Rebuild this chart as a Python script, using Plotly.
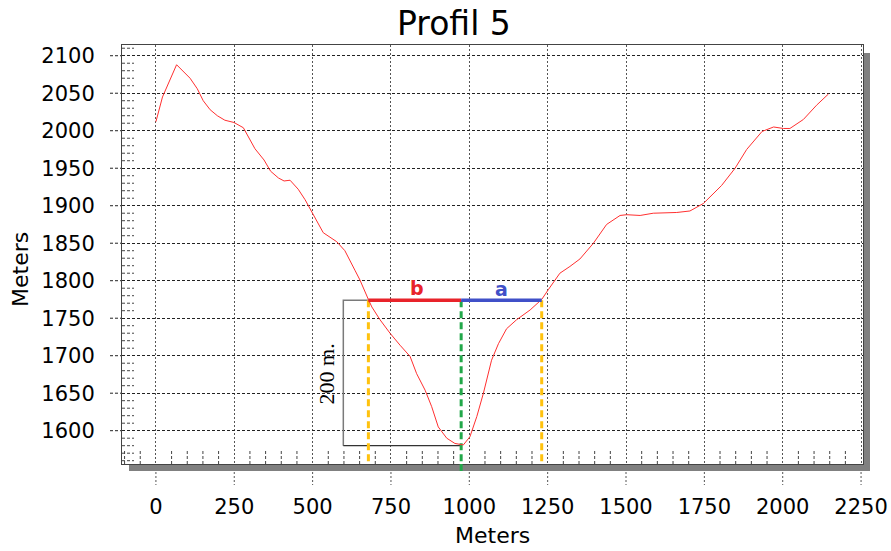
import plotly.graph_objects as go

# ---- data ----
dist = [0, 21, 66, 109, 132, 151, 173, 196, 220, 249, 279, 295, 316, 345, 366, 391, 409, 428,
        454, 476, 499, 534, 577, 603, 635, 651, 678, 689, 715, 747, 779, 811, 832, 859, 880,
        901, 928, 954, 981, 1002, 1024, 1045, 1071, 1093, 1119, 1151, 1194, 1231, 1252, 1289,
        1321, 1353, 1396, 1438, 1481, 1502, 1545, 1587, 1662, 1704, 1747, 1805, 1848, 1885,
        1934, 1971, 2002, 2023, 2066, 2108, 2146]
elev = [2012, 2045, 2088, 2070, 2056, 2040, 2028, 2020, 2014, 2011, 2004, 1992, 1976, 1961,
        1946, 1937, 1933, 1934, 1922, 1908, 1890, 1864, 1852, 1840, 1814, 1801, 1775, 1765,
        1748, 1730, 1714, 1699, 1676, 1654, 1632, 1605, 1590, 1583, 1581, 1592, 1619, 1650,
        1694, 1716, 1736, 1748, 1761, 1775, 1788, 1810, 1819, 1829, 1850, 1875, 1887, 1888,
        1887, 1890, 1891, 1893, 1903, 1927, 1950, 1975, 1999, 2005, 2003, 2003, 2015, 2034, 2049]

x_ticks = [0, 250, 500, 750, 1000, 1250, 1500, 1750, 2000, 2250]
y_ticks = [1600, 1650, 1700, 1750, 1800, 1850, 1900, 1950, 2000, 2050, 2100]
x_minor = [v for v in range(-100, 2260, 50) if v % 250 != 0]
y_minor = [v for v in range(1560, 2115, 10) if v % 50 != 0]

x_range = [-108.2, 2256.2]
y_range = [1555.6, 2114.3]

# annotation geometry (data units)
level = 1774          # horizontal water-level line
x_bracket = 598       # left side of the 200 m bracket
x_b = 678             # left intersection
x_mid = 974           # valley axis
x_a = 1231            # right intersection
bracket_bottom = 1580

fig = go.Figure()

# bracket (200 m)
fig.add_trace(go.Scatter(x=[x_b, x_bracket, x_bracket], y=[level, level, bracket_bottom],
                         mode="lines", line=dict(color="#7a7a7a", width=1.5), hoverinfo="skip"))
fig.add_trace(go.Scatter(x=[x_bracket, x_mid], y=[bracket_bottom, bracket_bottom],
                         mode="lines", line=dict(color="#333333", width=1.2), hoverinfo="skip"))

# vertical dashed lines
fig.add_trace(go.Scatter(x=[x_b, x_b], y=[level, y_range[0]], mode="lines",
                         line=dict(color="#FFC20E", width=3, dash="7px,4px"), hoverinfo="skip"))
fig.add_trace(go.Scatter(x=[x_a, x_a], y=[level, y_range[0]], mode="lines",
                         line=dict(color="#FFC20E", width=3, dash="7px,4px"), hoverinfo="skip"))
fig.add_trace(go.Scatter(x=[x_mid, x_mid], y=[level, y_range[0]], mode="lines",
                         line=dict(color="#22A84A", width=3, dash="7px,4px"), hoverinfo="skip"))

# profile
fig.add_trace(go.Scatter(x=dist, y=elev, mode="lines",
                         line=dict(color="#FF3030", width=1), hoverinfo="skip"))

# b and a segments
fig.add_trace(go.Scatter(x=[x_b, x_mid], y=[level, level], mode="lines",
                         line=dict(color="#E8232A", width=3.5), hoverinfo="skip"))
fig.add_trace(go.Scatter(x=[x_mid, x_a], y=[level, level], mode="lines",
                         line=dict(color="#4050C8", width=3.5), hoverinfo="skip"))

shapes = []
# outside extensions of the grid lines (dashed)
for v in x_ticks:
    shapes.append(dict(type="line", xref="x", yref="paper", x0=v, x1=v, y0=0, y1=-21 / 419,
                       line=dict(color="#555555", width=1, dash="2px,2px"), layer="below"))
for v in y_ticks:
    shapes.append(dict(type="line", xref="paper", yref="y", x0=-12 / 741, x1=0, y0=v, y1=v,
                       line=dict(color="#222222", width=1, dash="3px,2px"), layer="below"))
# minor inside ticks (dashed)
for v in x_minor:
    shapes.append(dict(type="line", xref="x", yref="paper", x0=v, x1=v, y0=0, y1=14 / 419,
                       line=dict(color="#444444", width=1, dash="3px,2px")))
for v in y_minor:
    shapes.append(dict(type="line", xref="paper", yref="y", x0=0, x1=12 / 741, y0=v, y1=v,
                       line=dict(color="#444444", width=1, dash="3px,2px")))
# green line small extension below the box
shapes.append(dict(type="line", xref="x", yref="paper", x0=x_mid, x1=x_mid, y0=0, y1=-8 / 419,
                   line=dict(color="#22A84A", width=3, dash="7px,4px")))
# box shadow
shapes.append(dict(type="rect", xref="paper", yref="paper", x0=1.0, x1=1 + 7 / 741,
                   y0=-7 / 419, y1=1 - 8 / 419, fillcolor="#808080", line=dict(width=0), layer="below"))
shapes.append(dict(type="rect", xref="paper", yref="paper", x0=7 / 741, x1=1.0,
                   y0=-7 / 419, y1=0, fillcolor="#808080", line=dict(width=0), layer="below"))

annotations = [
    dict(text="Profil 5", xref="paper", yref="paper", x=(454 - 122) / 741, y=1 + (45 - 23) / 419,
         xanchor="center", yanchor="middle", showarrow=False,
         font=dict(family="DejaVu Sans", size=33, color="black")),
    dict(text="Meters", xref="paper", yref="paper", x=(492 - 122) / 741, y=-(535 - 464) / 419,
         xanchor="center", yanchor="middle", showarrow=False,
         font=dict(family="DejaVu Sans", size=22, color="black")),
    dict(text="Meters", xref="paper", yref="paper", x=(20 - 122) / 741, y=1 - (270 - 45) / 419,
         xanchor="center", yanchor="middle", showarrow=False, textangle=-90,
         font=dict(family="DejaVu Sans", size=22, color="black")),
    dict(text="<b>b</b>", x=832, y=1790, xref="x", yref="y", showarrow=False,
         xanchor="center", yanchor="middle", font=dict(family="DejaVu Sans", size=19, color="#E8232A")),
    dict(text="<b>a</b>", x=1103, y=1789, xref="x", yref="y", showarrow=False,
         xanchor="center", yanchor="middle", font=dict(family="DejaVu Sans", size=19, color="#4050C8")),
    dict(text="200 m.", x=545, y=1676, xref="x", yref="y", showarrow=False, textangle=-90,
         xanchor="center", yanchor="middle",
         font=dict(family="Liberation Serif", size=22, color="black")),
]

fig.update_layout(
    width=891, height=551,
    margin=dict(l=122, r=28, t=45, b=87),
    paper_bgcolor="white", plot_bgcolor="white",
    showlegend=False,
    shapes=shapes,
    annotations=annotations,
    xaxis=dict(range=x_range, tickvals=x_ticks, ticktext=[str(v) for v in x_ticks],
               showgrid=True, gridcolor="#555555", griddash="2px,2px", gridwidth=1,
               zeroline=False, showline=True, linecolor="#444444", linewidth=1, mirror=True,
               ticks="", ticklabelstandoff=24, automargin=False,
               tickfont=dict(family="DejaVu Sans", size=21, color="black")),
    yaxis=dict(range=y_range, tickvals=y_ticks, ticktext=[str(v) for v in y_ticks],
               showgrid=True, gridcolor="#222222", griddash="3px,2px", gridwidth=1,
               zeroline=False, showline=True, linecolor="#444444", linewidth=1, mirror=True,
               ticks="", ticklabelstandoff=22, automargin=False,
               tickfont=dict(family="DejaVu Sans", size=21, color="black")),
)

fig.write_html("out.html")
